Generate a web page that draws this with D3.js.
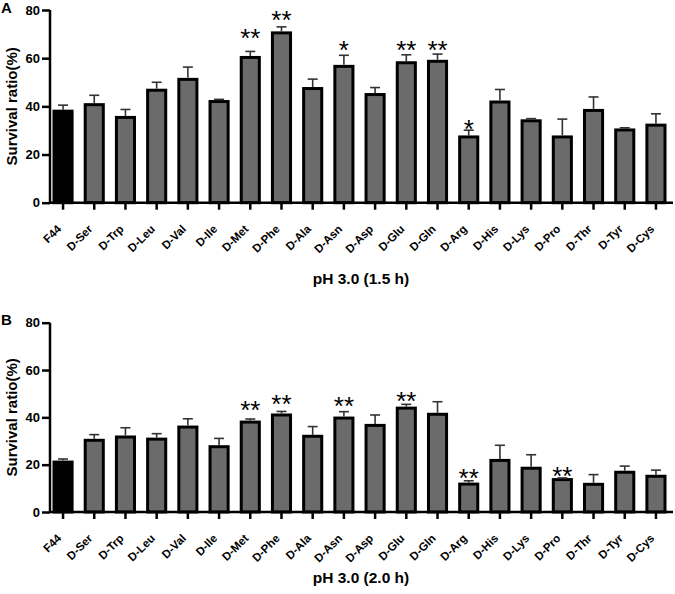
<!DOCTYPE html>
<html>
<head>
<meta charset="utf-8">
<script src="https://cdn.jsdelivr.net/npm/d3@7"></script>
<style>
  html, body { margin: 0; padding: 0; background: #fff; }
  svg { display: block; font-family: "Liberation Sans", Arial, sans-serif; }
</style>
</head>
<body>
<svg id="chart" width="675" height="594"></svg>
<script>
// ---- data ----
const categories = ["F44","D-Ser","D-Trp","D-Leu","D-Val","D-Ile","D-Met","D-Phe","D-Ala","D-Asn",
                    "D-Asp","D-Glu","D-Gln","D-Arg","D-His","D-Lys","D-Pro","D-Thr","D-Tyr","D-Cys"];
const yTicks = [0, 20, 40, 60, 80];

const meansA = [38.0,40.7,35.4,46.7,51.2,42.0,60.3,70.5,47.4,56.6,44.9,58.1,58.7,27.3,41.8,34.0,27.3,38.3,30.2,32.2];
const errA   = [2.5,3.9,3.3,3.3,5.1,0.9,2.5,2.5,3.9,4.6,2.9,3.3,3.0,2.8,5.2,0.9,7.4,5.6,0.9,4.7];
const starCatsA   = ["D-Met","D-Phe","D-Asn","D-Glu","D-Gln","D-Arg"];
const starMarksA  = ["**","**","*","**","**","*"];
const starLevelsA = [69.2,76.6,64.2,64.5,64.5,31.4];

const meansB = [21.1,30.3,31.7,30.8,35.9,27.6,38.0,41.0,32.0,39.7,36.6,43.9,41.3,11.8,21.8,18.5,13.7,11.7,16.8,15.1];
const errB   = [1.3,2.4,3.9,2.3,3.5,3.5,1.3,1.5,4.1,2.7,4.4,1.6,5.3,1.4,6.4,5.7,0.7,4.1,2.6,2.6];
const starCatsB   = ["D-Met","D-Phe","D-Asn","D-Glu","D-Arg","D-Pro"];
const starMarksB  = ["**","**","**","**","**","**"];
const starLevelsB = [43.9,46.6,45.9,47.7,15.3,16.3];

const titleA = "pH 3.0 (1.5 h)";
const titleB = "pH 3.0 (2.0 h)";
const yLabel = "Survival ratio(%)";

// ---- drawing ----
const svg = d3.select("#chart");
const x = d3.scaleBand().domain(categories).range([54, 665]).paddingInner(0.42).paddingOuter(0);
const cx = c => x(c) + x.bandwidth() / 2;
const FONT = "Liberation Sans, Arial, sans-serif";
const STAR_FS = 26;

function panel(cfg) {
  const g = svg.append("g");
  const y = d3.scaleLinear().domain([0, 80]).range([cfg.y0, cfg.y1]);

  // bars
  g.selectAll("rect.bar").data(cfg.means).join("rect")
    .attr("class", "bar")
    .attr("x", (d, i) => x(categories[i]))
    .attr("width", x.bandwidth())
    .attr("y", d => y(d))
    .attr("height", d => y(0) - y(d))
    .attr("fill", (d, i) => i === 0 ? "#000" : "#6b6b6b")
    .attr("stroke", "#000")
    .attr("stroke-width", 3);

  // error bars (upper only)
  const eb = g.selectAll("g.err").data(cfg.means).join("g").attr("class", "err");
  eb.append("line")
    .attr("x1", (d, i) => cx(categories[i]))
    .attr("x2", (d, i) => cx(categories[i]))
    .attr("y1", d => y(d) - 1.5)
    .attr("y2", (d, i) => y(d + cfg.errs[i]))
    .attr("stroke", "#333").attr("stroke-width", 1.6);
  eb.append("line")
    .attr("x1", (d, i) => cx(categories[i]) - 5)
    .attr("x2", (d, i) => cx(categories[i]) + 5)
    .attr("y1", (d, i) => y(d + cfg.errs[i]))
    .attr("y2", (d, i) => y(d + cfg.errs[i]))
    .attr("stroke", "#333").attr("stroke-width", 1.6);

  // stars
  g.selectAll("text.star").data(cfg.starCats).join("text")
    .attr("class", "star")
    .attr("x", d => cx(d))
    .attr("y", (d, i) => y(cfg.starLevels[i]) + 0.43 * STAR_FS)
    .attr("text-anchor", "middle")
    .attr("font-family", FONT)
    .attr("font-size", STAR_FS)
    .attr("fill", "#000")
    .text((d, i) => cfg.starMarks[i]);

  // y axis
  const ya = g.append("g").attr("transform", "translate(50,0)")
    .call(d3.axisLeft(y).tickValues(yTicks).tickSize(8).tickPadding(2));
  ya.select(".domain").attr("stroke", "#000").attr("stroke-width", 2.5).attr("d", `M0,${cfg.y1}V${cfg.y0}`);
  ya.selectAll(".tick line").attr("stroke", "#000").attr("stroke-width", 2.5);
  ya.selectAll(".tick text").attr("font-size", 13).attr("font-weight", "bold").attr("fill", "#000")
    .attr("font-family", FONT);

  // x axis (line + ticks)
  const xa = g.append("g").attr("transform", `translate(0,${cfg.y0})`)
    .call(d3.axisBottom(x).tickSize(7).tickSizeOuter(0).tickFormat(""));
  xa.select(".domain").attr("stroke", "#000").attr("stroke-width", 2.5).attr("d", "M50,0H673");
  xa.selectAll(".tick line").attr("stroke", "#000").attr("stroke-width", 2.5);

  // rotated category labels (CSS transform)
  g.selectAll("text.xlab").data(categories).join("text")
    .attr("class", "xlab")
    .attr("x", 0).attr("y", 0)
    .style("transform", d => `translate(${cx(d) - 1}px, ${cfg.y0 + 27}px) rotate(-45deg)`)
    .style("transform-origin", "0 0")
    .attr("text-anchor", "end")
    .attr("font-family", FONT)
    .attr("font-size", 11.5).attr("font-weight", "bold").attr("fill", "#000")
    .text(d => d);

  // y label
  g.append("text")
    .attr("transform", `translate(17,${(cfg.y0 + cfg.y1) / 2}) rotate(-90)`)
    .attr("text-anchor", "middle")
    .attr("font-family", FONT)
    .attr("font-size", 15).attr("font-weight", "bold")
    .text(yLabel);

  // x title
  g.append("text")
    .attr("x", 361).attr("y", cfg.titleY)
    .attr("text-anchor", "middle")
    .attr("font-family", FONT)
    .attr("font-size", 15.5).attr("font-weight", "bold")
    .text(cfg.title);

  // panel letter
  g.append("text")
    .attr("x", 1).attr("y", cfg.letterY)
    .attr("font-family", FONT)
    .attr("font-size", 15).attr("font-weight", "bold")
    .text(cfg.letter);
}

panel({ y0: 202.7, y1: 10, means: meansA, errs: errA, starCats: starCatsA, starMarks: starMarksA,
        starLevels: starLevelsA, title: titleA, titleY: 284, letter: "A", letterY: 13 });
panel({ y0: 512, y1: 322.7, means: meansB, errs: errB, starCats: starCatsB, starMarks: starMarksB,
        starLevels: starLevelsB, title: titleB, titleY: 583, letter: "B", letterY: 325 });
</script>
</body>
</html>
